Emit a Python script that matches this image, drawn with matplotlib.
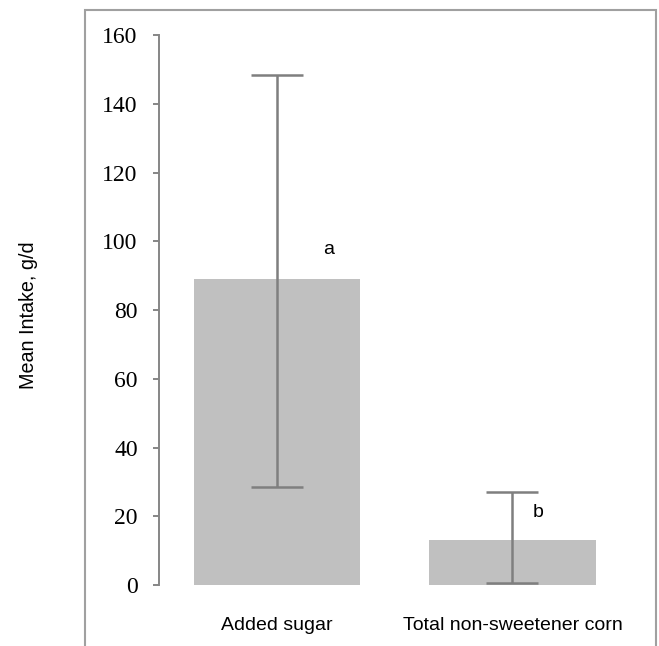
import numpy as np
import matplotlib.pyplot as plt
from matplotlib.patches import Rectangle

categories = ["Added sugar", "Total non-sweetener corn"]
mean_intake = [89, 13]
err_low = [60.5, 12.5]
err_high = [59.5, 14]
letters = ["a", "b"]
yticks = [0, 20, 40, 60, 80, 100, 120, 140, 160]

fig = plt.figure(figsize=(6.59, 6.46), dpi=100)
ax = fig.add_axes([0.2413, 0.0944, 0.715, 0.8514])

x = np.arange(len(categories))
ax.bar(x, mean_intake, width=0.706, color="#c0c0c0")
ax.errorbar(x, mean_intake, yerr=[err_low, err_high], fmt="none",
            ecolor="#7f7f7f", elinewidth=1.8, capsize=18.5, capthick=1.8)

# significance letters
ax.text(0.22, 97.5, letters[0], ha="center", va="center", fontsize=14, family="Liberation Sans")
ax.text(1.11, 21, letters[1], ha="center", va="center", fontsize=14, family="Liberation Sans")

ax.set_xlim(-0.5, 1.5)
ax.set_ylim(0, 160)
ax.set_yticks(yticks)
ax.set_yticklabels([str(t) for t in yticks], family="Liberation Serif", fontsize=17)
ax.set_xticks(x)
ax.set_xticklabels(categories, family="Liberation Sans", fontsize=14)
ax.tick_params(axis="y", length=4.3, width=1.4, color="#868686", pad=11)
ax.tick_params(axis="x", length=0, pad=23)

for s in ["top", "right", "bottom"]:
    ax.spines[s].set_visible(False)
ax.spines["left"].set_color("#868686")
ax.spines["left"].set_linewidth(1.4)

fig.text(29 / 659, 1 - 315 / 646, "Mean Intake, g/d", rotation=90, ha="center", va="center",
         fontsize=14.2, family="Liberation Sans")

# outer frame
fig.patches.append(Rectangle((85 / 659, -0.1), (656 - 85) / 659, 1.1 - 10.5 / 646,
                             transform=fig.transFigure, fill=False,
                             edgecolor="#a0a0a0", linewidth=1.5))

fig.savefig("out.png", dpi=100)
